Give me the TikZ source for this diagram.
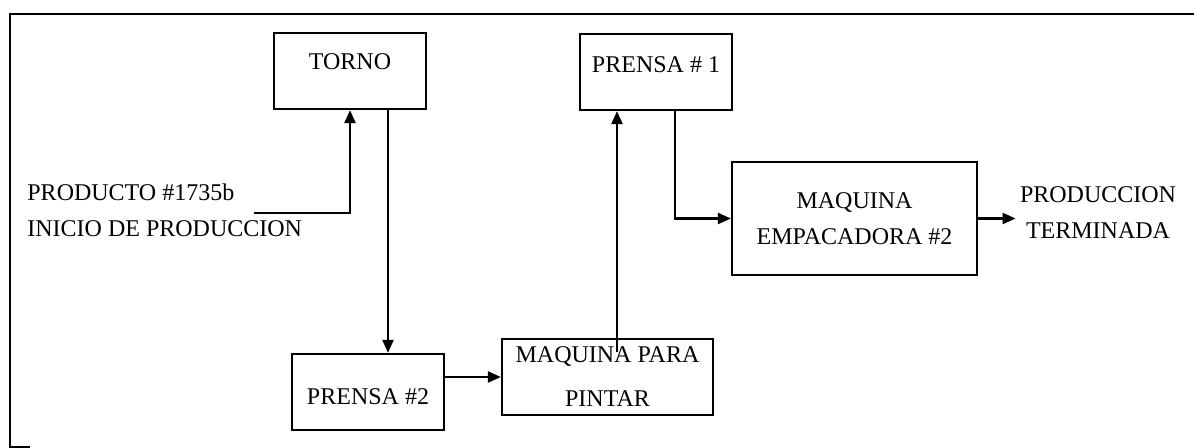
\documentclass[tikz,border=0pt]{standalone}
\usepackage{fontspec}
\setmainfont{Liberation Serif}
\usetikzlibrary{arrows.meta}

\begin{document}
\begin{tikzpicture}[x=0.5pt,y=-0.5pt,
		font=\fontsize{12}{18}\selectfont,
		caja/.style={draw,line width=1.1pt,minimum width=76pt,minimum height=38pt,inner sep=0pt},
		flecha/.style={line width=1.1pt,-{Triangle[length=6.5pt,width=5.5pt]}}]
		\useasboundingbox (0,0) rectangle (1194,448);
		\draw[line width=1.4pt] (1194,14) -- (10,14) -- (10,447) -- (30,447);	% Marco
		
		% Maquinas
		\node[caja,text depth=9pt] (torno) at (350,71) 			{TORNO};
		\node[caja,text depth=7pt] (prensauno) at (656,72) 		{PRENSA \# 1};
		\node[caja,text height=13pt] (prensados) at (368,392) 	{PRENSA \#2};
		\node[caja,minimum width=105.5pt,align=center] (pintar) at (607.5,377) {MAQUINA PARA\\[4pt]PINTAR};
		\node[caja,minimum width=122.5pt,minimum height=56.5pt,align=center] (empaca) at (854.5,218.5) {MAQUINA\\EMPACADORA \#2};
		
		% Entrada y salida
		\node[align=left,anchor=west,inner sep=0pt] (inicio) at (27,210) {PRODUCTO \#1735b\\INICIO DE PRODUCCION};
		\node[align=center,inner sep=2pt] (salida) at (1098,213) {PRODUCCION\\TERMINADA};
		\coordinate (entrada) at (254,213);
		
		% Flechas
		\draw[flecha] (entrada) -| (torno.south);
		\draw[flecha] ([xshift=19pt]torno.south) -- ([xshift=19pt]torno.south |- prensados.north);
		\draw[flecha] (prensados.east |- pintar.west) -- (pintar.west);
		\draw[flecha] ([xshift=4.75pt,yshift=-7pt]pintar.north) -- ([xshift=4.75pt]pintar.north |- prensauno.south);
		\draw[flecha] ([xshift=9.5pt]prensauno.south) |- (empaca.west);
		\draw[flecha] (empaca.east) -- (empaca.east -| salida.west);
	\end{tikzpicture}
\end{document}
